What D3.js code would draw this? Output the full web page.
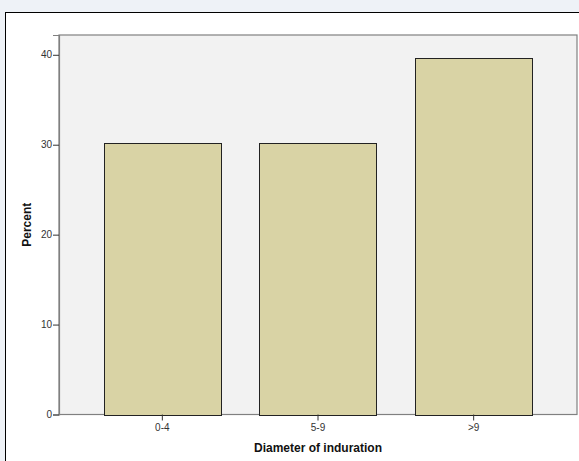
<!DOCTYPE html>
<html><head><meta charset="utf-8">
<script src="https://cdn.jsdelivr.net/npm/d3@7/dist/d3.min.js"></script>
<style>html,body{margin:0;padding:0;background:#eef2f7;}svg{display:block;}</style>
</head><body>
<script>
const categories = ["0-4", "5-9", ">9"];
const percents = [30.2, 30.2, 39.6];
const yTicks = [0, 10, 20, 30, 40];
const xTitle = "Diameter of induration";
const yTitle = "Percent";

const W = 579, H = 461;
const svg = d3.select("body").append("svg").attr("width", W).attr("height", H);
svg.append("rect").attr("x",0).attr("y",0).attr("width",W).attr("height",H).attr("fill","#eef2f7");
// outer chart frame
svg.append("rect").attr("x",5.5).attr("y",12.5).attr("width",W+10).attr("height",H+10)
  .attr("fill","#ffffff").attr("stroke","#000").attr("stroke-width",1);

const pl = 59, pr = 577, pt = 35, pb = 414.5;
const y = d3.scaleLinear().domain([0, 42.2]).range([pb, pt]);
const x = d3.scaleBand().domain(categories).range([pl + 25.5, pr - 25.5]).paddingInner(0.248).paddingOuter(0.124);

svg.append("rect").attr("x",pl).attr("y",pt).attr("width",pr-pl).attr("height",pb-pt)
  .attr("fill","#f2f2f2").attr("stroke","#808080").attr("stroke-width",1.2);

svg.selectAll("rect.bar").data(percents).join("rect").attr("class","bar")
  .attr("x",(d,i)=>Math.round(x(categories[i]))+0.5)
  .attr("y",d=>Math.round(y(d))+0.5)
  .attr("width",Math.round(x.bandwidth()))
  .attr("height",d=>Math.round(pb)-Math.round(y(d)))
  .attr("fill","#d9d3a5").attr("stroke","#222").attr("stroke-width",1);

const font = "Arial, 'Liberation Sans', sans-serif";
const yAxis = d3.axisLeft(y).tickValues(yTicks).tickSize(6).tickPadding(1);
const gy = svg.append("g").attr("transform",`translate(${pl},0)`).call(yAxis);
gy.select(".domain").attr("stroke","#808080").attr("stroke-width",1.2);
gy.selectAll(".tick line").attr("stroke","#333");
gy.selectAll(".tick text").attr("font-family",font).attr("font-size",10).attr("fill","#333");

const xAxis = d3.axisBottom(x).tickSize(6).tickPadding(3);
const gx = svg.append("g").attr("transform",`translate(0,${pb})`).call(xAxis);
gx.select(".domain").remove();
gx.selectAll(".tick line").attr("stroke","#333");
gx.selectAll(".tick text").attr("font-family",font).attr("font-size",10).attr("fill","#333");

svg.append("text").attr("x",(pl+pr)/2).attr("y",452).attr("text-anchor","middle")
  .attr("font-family",font).attr("font-size",12).attr("font-weight","bold").attr("fill","#111")
  .text(xTitle);
svg.append("text").attr("transform",`translate(31,${(pt+pb)/2}) rotate(-90)`).attr("text-anchor","middle")
  .attr("font-family",font).attr("font-size",12).attr("font-weight","bold").attr("fill","#111")
  .text(yTitle);
</script>
</body></html>
